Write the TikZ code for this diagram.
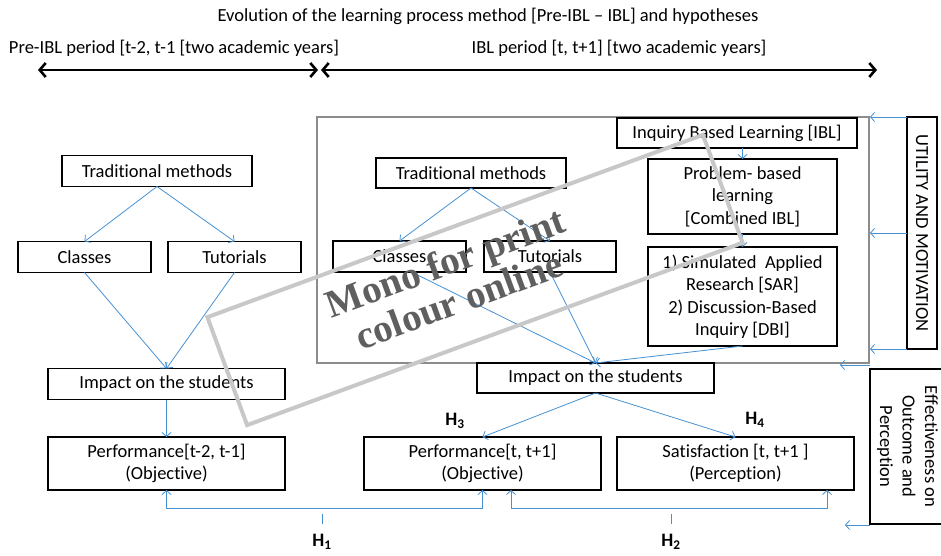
\documentclass[tikz,border=0pt]{standalone}
\usepackage{fontspec}
\setmainfont{Carlito}[Ligatures=NoCommon]
\newfontfamily\stampfont{Liberation Serif}
\usetikzlibrary{arrows.meta}
\definecolor{linkblue}{RGB}{70,145,210}
\definecolor{framegray}{RGB}{140,140,140}
\definecolor{stampgray}{RGB}{200,200,200}
\definecolor{stamptext}{RGB}{95,95,95}

\begin{document}
\begin{tikzpicture}[x=1pt,y=-1pt]
  \tikzset{BoxStyle/.style = {
    shape          = rectangle,
    draw           = black,
    line width     = 1.2pt,
    text           = black,
    align          = center,
    inner sep      = 1pt,
    outer sep      = 0pt,
    minimum width  = 237pt,
    minimum height = 31pt,
    font           = \fontsize{18.5}{22.5}\selectfont
    }
  }
  \tikzset{FrameStyle/.style = {
    shape          = rectangle,
    draw           = framegray,
    line width     = 2pt,
    inner sep      = 0pt
    }
  }
  \tikzset{LabelStyle/.style = {
    inner sep      = 0pt,
    text           = black,
    font           = \fontsize{18.5}{22.5}\selectfont
    }
  }
  \tikzset{HypoStyle/.style = {
    inner sep      = 0pt,
    text           = black,
    font           = \fontsize{19}{22}\selectfont\bfseries
    }
  }
  \tikzset{EdgeStyle/.style = {
    draw           = linkblue,
    line width     = 0.8pt,
    -{Straight Barb[length=4pt,width=9pt]}
    }
  }
  \tikzset{PeriodStyle/.style = {
    draw           = black,
    line width     = 2.6pt,
    {Straight Barb[length=6pt,width=14pt]}-{Straight Barb[length=6pt,width=14pt]}
    }
  }
  \tikzset{StampStyle/.style = {
    shape          = rectangle,
    draw           = stampgray,
    line width     = 4pt,
    inner sep      = 0pt,
    rotate         = 20.2
    }
  }
  \tikzset{StampTextStyle/.style = {
    inner sep      = 0pt,
    text           = stamptext,
    align          = center,
    rotate         = 20.2,
    font           = \stampfont\fontsize{39}{40}\selectfont\bfseries
    }
  }

  \useasboundingbox (0,0) rectangle (941,556);

  % titles and periods
  \node[LabelStyle](T1) at (488,16) {Evolution of the learning process method [Pre-IBL -- IBL] and hypotheses};
  \node[LabelStyle](T2) at (174,48) {Pre-IBL period [t-2, t-1 [two academic years]};
  \node[LabelStyle](T3) at (619,48) {IBL period [t, t+1] [two academic years]};
  \coordinate (PreL) at (38,70);
  \coordinate (PreR) at (318,70);
  \coordinate (IblL) at (321,70);
  \coordinate (IblR) at (877,70);
  \draw[PeriodStyle](PreL) -- (PreR);
  \draw[PeriodStyle](IblL) -- (IblR);
  %
  % pre-IBL column
  \node[BoxStyle, minimum width=190pt](P1) at (157,171) {Traditional methods};
  \node[BoxStyle, minimum width=133pt](P2) at (84.5,257) {Classes};
  \node[BoxStyle, minimum width=133pt](P3) at (234.5,257) {Tutorials};
  \node[BoxStyle](P4) at (166.5,384) {Impact on the students};
  \node[BoxStyle, minimum height=53pt](P5) at (166.5,463.5) {Performance[t-2, t-1]\\(Objective)};
  %
  % IBL period
  \node[FrameStyle, minimum width=552pt, minimum height=246pt](I0) at (593,240) {};
  \node[BoxStyle, minimum width=240pt, minimum height=30pt](I1) at (737,133) {Inquiry Based Learning [IBL]};
  \node[BoxStyle, minimum width=190pt, minimum height=30pt](I2) at (471,173) {Traditional methods};
  \node[BoxStyle, minimum width=133pt](I3) at (399.5,256.5) {Classes};
  \node[BoxStyle, minimum width=132pt](I4) at (550,256.5) {Tutorials};
  \node[BoxStyle, minimum width=189pt, minimum height=75pt](I5) at (742.5,196.5) {Problem- based\\learning\\{[Combined IBL]}};
  \node[BoxStyle, minimum width=189pt, minimum height=99pt](I6) at (742.5,296.5) {1) Simulated~ Applied\\Research [SAR]\\2) Discussion-Based\\Inquiry [DBI]};
  \node[BoxStyle, minimum height=30pt](I7) at (595.5,378) {Impact on the students};
  \node[BoxStyle, minimum height=53pt](I8) at (482.5,463.5) {Performance[t, t+1]\\(Objective)};
  \node[BoxStyle, minimum height=53pt](I9) at (735.5,463.5) {Satisfaction [t, t+1 ]\\(Perception)};
  %
  % side boxes
  \node[BoxStyle, minimum width=30pt, minimum height=232pt](U1) at (922,233) {\rotatebox{-90}{UTILITY AND MOTIVATION}};
  \node[BoxStyle, minimum width=74pt, minimum height=155pt](E1) at (907,446.5)
    {\rotatebox{-90}{\begin{tabular}{@{}c@{}}Effectiveness on\\Outcome and\\Perception\end{tabular}}};
  \coordinate (E1a) at (840,365);
  \coordinate (E1b) at (845,525);
  %
  % hypotheses
  \node[HypoStyle](H1) at (322,542) {H\textsubscript{1}};
  \node[HypoStyle](H2) at (671,542) {H\textsubscript{2}};
  \node[HypoStyle](H3) at (455,421) {H\textsubscript{3}};
  \node[HypoStyle](H4) at (755,420) {H\textsubscript{4}};
  \coordinate (K1) at (322,514);
  \coordinate (K2) at (671,514);

  %
  \draw[EdgeStyle](P1.south) to (P2.north);
  \draw[EdgeStyle](P1.south) to (P3.north);
  \draw[EdgeStyle](P2.south) to (P4.north);
  \draw[EdgeStyle](P3.south) to (P4.north);
  \draw[EdgeStyle](P4.south) to (P5.north);
  \draw[EdgeStyle](I1.south -| I5.north) to (I5.north);
  \draw[EdgeStyle](I5.south) to (I6.north);
  \draw[EdgeStyle](I2.south) to (I3.north);
  \draw[EdgeStyle](I2.south) to (I4.north);
  \draw[EdgeStyle]([xshift=12pt]I3.south) to (I7.north);
  \draw[EdgeStyle](I4.south) to (I7.north);
  \draw[EdgeStyle](I6.south) to (I7.north);
  \draw[EdgeStyle](I7.south) to (I8.north);
  \draw[EdgeStyle](I7.south) to (I9.north);
  \draw[EdgeStyle](U1.north west) to (U1.north west -| I0.east);
  \draw[EdgeStyle](U1.west) to (U1.west -| I0.east);
  \draw[EdgeStyle](U1.south west) to (U1.south west -| I0.east);
  \draw[EdgeStyle](E1.north west |- E1a) to (E1a);
  \draw[EdgeStyle](E1.south west |- E1b) to (E1b);
  \draw[EdgeStyle, {Straight Barb[length=4pt,width=9pt]}-{Straight Barb[length=4pt,width=9pt]}]
    (P5.south) -- ++(0,18) -| (I8.south);
  \draw[EdgeStyle, {Straight Barb[length=4pt,width=9pt]}-{Straight Barb[length=4pt,width=9pt]}]
    ([xshift=28.5pt]I8.south) -- ++(0,18) -| ([xshift=91.5pt]I9.south);
  \draw[EdgeStyle, -](K1) -- ++(0,10);
  \draw[EdgeStyle, -](K2) -- ++(0,10);
  %
  % stamp
  \node[StampStyle, minimum width=528pt, minimum height=115pt](W0) at (475,280) {};
  \node[StampTextStyle](W1) at (452,281) {Mono for print\\colour online};

\end{tikzpicture}
\end{document}
